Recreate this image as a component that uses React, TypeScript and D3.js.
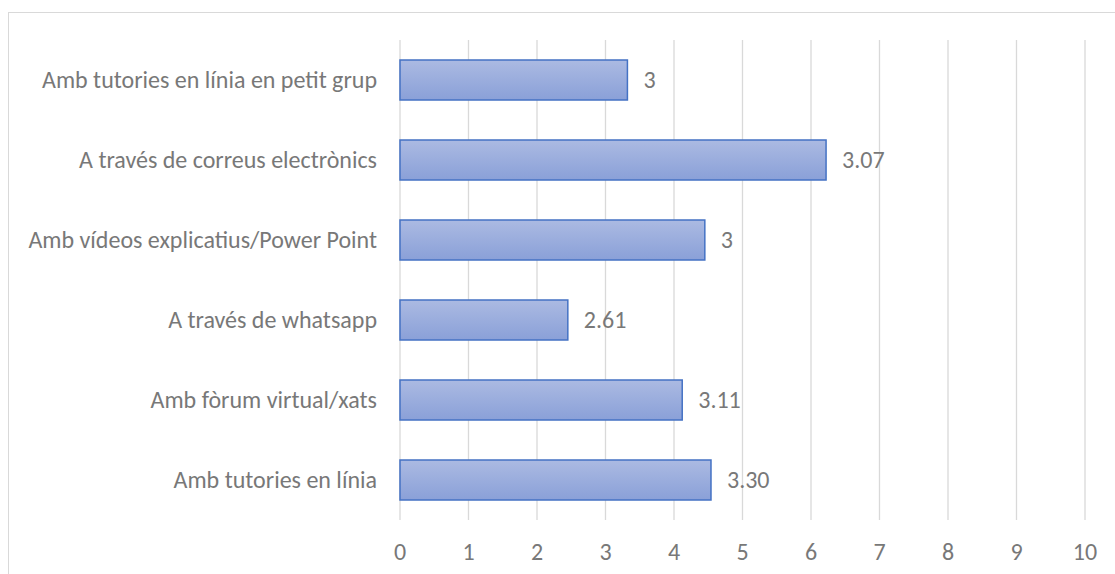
import React from "react";
import * as d3 from "d3";

const categories = [
  "Amb tutories en línia en petit grup",
  "A través de correus electrònics",
  "Amb vídeos explicatius/Power Point",
  "A través de whatsapp",
  "Amb fòrum virtual/xats",
  "Amb tutories en línia",
];
const barValues = [3.32, 6.22, 4.45, 2.45, 4.12, 4.54];
const valueLabels = ["3", "3.07", "3", "2.61", "3.11", "3.30"];
const xTicks = [0, 1, 2, 3, 4, 5, 6, 7, 8, 9, 10];

const W = 1115;
const H = 574;
const plotLeft = 400;
const plotRight = 1085;
const plotTop = 40;
const plotBottom = 520;
const font = "Carlito, Calibri, 'Open Sans', 'Noto Sans', sans-serif";
const fs = 24;
const textColor = "#787878";

export default function App() {
  const x = d3.scaleLinear().domain([0, 10]).range([plotLeft, plotRight]);
  const y = d3
    .scaleBand<string>()
    .domain(categories)
    .range([plotTop, plotBottom])
    .paddingInner(0.5)
    .paddingOuter(0.25);

  return (
    <svg
      width={W}
      height={H}
      style={{ position: "absolute", left: 0, top: 0, background: "#fff" }}
    >
      <defs>
        <linearGradient id="barGrad" x1="0" y1="0" x2="0" y2="1">
          <stop offset="0%" stopColor="#abbae2" />
          <stop offset="100%" stopColor="#8aa0d8" />
        </linearGradient>
      </defs>
      <rect x={8.5} y={12.5} width={1120} height={580} fill="none" stroke="#d9d9d9" strokeWidth={1} />
      {xTicks.map((t) => (
        <line
          key={t}
          x1={x(t)}
          x2={x(t)}
          y1={plotTop}
          y2={plotBottom}
          stroke="#d9d9d9"
          strokeWidth={1.3}
        />
      ))}
      {categories.map((c, i) => {
        const yy = y(c)!;
        const bw = y.bandwidth();
        return (
          <g key={c}>
            <rect
              x={x(0)}
              y={yy}
              width={x(barValues[i]) - x(0)}
              height={bw}
              fill="url(#barGrad)"
              stroke="#4472c4"
              strokeWidth={1.5}
            />
            <text
              x={x(barValues[i]) + 16}
              y={yy + bw / 2}
              dy="0.35em"
              fontFamily={font}
              fontSize={fs}
              fill={textColor}
            >
              {valueLabels[i]}
            </text>
            <text
              x={377}
              y={yy + bw / 2}
              dy="0.35em"
              textAnchor="end"
              fontFamily={font}
              fontSize={fs}
              fill={textColor}
            >
              {c}
            </text>
          </g>
        );
      })}
      {xTicks.map((t) => (
        <text
          key={t}
          x={x(t)}
          y={552}
          dy="0.35em"
          textAnchor="middle"
          fontFamily={font}
          fontSize={fs}
          fill={textColor}
        >
          {t}
        </text>
      ))}
    </svg>
  );
}
